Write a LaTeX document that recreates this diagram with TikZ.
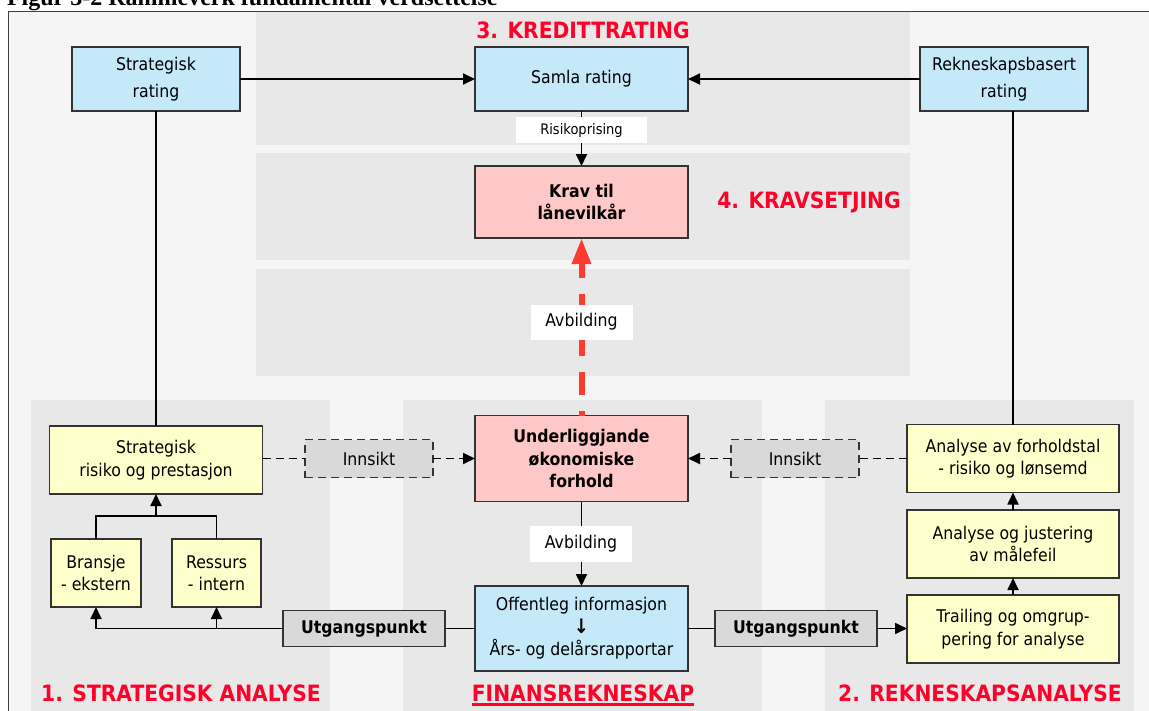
\documentclass[tikz,border=0pt]{standalone}
\usepackage{fontspec}
\setmainfont{DejaVu Sans}[FakeStretch=0.9]
\newfontfamily\capfont{Liberation Serif}
\usetikzlibrary{arrows.meta}
\definecolor{bluefill}{HTML}{C6E9FA}
\definecolor{yellowfill}{HTML}{FFFFCC}
\definecolor{pinkfill}{HTML}{FFC8C8}
\definecolor{grayfill}{HTML}{D9D9D9}
\definecolor{panelgray}{HTML}{E8E8E8}
\definecolor{bggray}{HTML}{F5F5F5}
\definecolor{boxline}{HTML}{333333}
\definecolor{headred}{HTML}{FF0029}
\definecolor{arrowred}{HTML}{FF3B30}

\begin{document}
\begin{tikzpicture}[x=1pt,y=-1pt,
	>={Triangle[length=12pt,width=11pt]},
	every node/.style={font=\fontsize{17.5}{22.5}\selectfont, align=center, inner sep=0pt, outer sep=0pt},
	sz/.style 2 args={minimum width=#1pt, minimum height=#2pt},
	box/.style={draw=boxline, line width=1.6pt},
	bluebox/.style={box, fill=bluefill},
	ratebox/.style={bluebox, font=\fontsize{17.5}{27}\selectfont},
	yellowbox/.style={box, fill=yellowfill},
	pinkbox/.style={box, fill=pinkfill, font=\fontsize{17.5}{22.5}\selectfont\bfseries},
	startbox/.style={box, fill=grayfill, sz={162}{36}, font=\fontsize{17.5}{22.5}\selectfont\bfseries},
	insightbox/.style={draw=boxline, line width=1.6pt, dash pattern=on 8pt off 5pt, fill=grayfill, sz={128}{38}},
	tag/.style={fill=white},
	head/.style={text=headred, font=\fontsize{22.5}{26}\selectfont\bfseries},
	link/.style={draw=black, line width=1.8pt},
	dlink/.style={link, dash pattern=on 8pt off 5pt},
	bigarrow/.style={draw=arrowred, line width=6pt, dash pattern=on 23pt off 16pt, dash phase=18pt, -{Triangle[length=26pt,width=18pt]}}]
\useasboundingbox (0,0) rectangle (1149,710);

% frame and background panels
\node[anchor=base west, font=\fontsize{24}{28}\selectfont\capfont\bfseries] (caption) at (7,5) {Figur 3-2 Rammeverk fundamental verdsettelse};
\draw[black!75, line width=1pt, fill=bggray] (8,11) rectangle (1175,735);
\fill[panelgray] (256,12) rectangle (910,145);
\fill[panelgray] (256,153) rectangle (910,260);
\fill[panelgray] (256,269) rectangle (910,376);
\fill[panelgray] (31,400) rectangle (330,712);
\fill[panelgray] (403,400) rectangle (762,712);
\fill[panelgray] (825,400) rectangle (1134,712);

% section titles
\node[head] (kreditt) at (583,30) {3. KREDITTRATING};
\node[head] (kravset) at (809,202) {4. KRAVSETJING};
\node[head] (stratan) at (181,693) {1. STRATEGISK ANALYSE};
\node[head] (finans) at (583,693) {FINANSREKNESKAP};
\node[head] (rekan) at (980,693) {2. REKNESKAPSANALYSE};
\draw[headred, line width=2.5pt] ([yshift=-3pt]finans.south west) -- ([yshift=-3pt]finans.south east);

% ratings
\node[ratebox, sz={168}{64}] (srat) at (156,79) {Strategisk\\rating};
\node[ratebox, sz={213}{64}] (samla) at (581.5,79) {\raisebox{-2pt}{Samla rating}};
\node[ratebox, sz={168}{64}] (rrat) at (1004,79) {Rekneskapsbasert\\rating};
\node[pinkbox, sz={213}{72}] (krav) at (581.5,202) {Krav til\\lånevilkår};

% middle column
\node[pinkbox, sz={213}{86}] (under) at (581.5,458.5) {Underliggjande\\økonomiske\\forhold};
\node[bluebox, sz={213}{85}] (off) at (581.5,628.5) {Offentleg informasjon\\{\fontsize{20}{22.5}\selectfont\bfseries ↓}\\Års- og delårsrapportar};
\node[insightbox] (innL) at (369,458.5) {Innsikt};
\node[insightbox] (innR) at (795,458.5) {Innsikt};
\node[startbox] (utgL) at (364,628.5) {Utgangspunkt};
\node[startbox] (utgR) at (796,628.5) {Utgangspunkt};

% strategic analysis
\node[yellowbox, sz={213}{68}] (strisk) at (156,460) {Strategisk\\risiko og prestasjon};
\node[yellowbox, sz={90}{68}] (bransje) at (96,573) {Bransje\\- ekstern};
\node[yellowbox, sz={89}{68}] (ressurs) at (216.5,573) {Ressurs\\- intern};
\coordinate (join) at (156,516);

% accounting analysis
\node[yellowbox, sz={212}{68}] (forhold) at (1013,458.5) {Analyse av forholdstal\\- risiko og lønsemd};
\node[yellowbox, sz={212}{68}] (justering) at (1013,544) {Analyse og justering\\av målefeil};
\node[yellowbox, sz={212}{68}] (trailing) at (1013,629) {Trailing og omgrup-\\pering for analyse};

% connectors
\path[link, ->]
	(srat) edge (samla)
	(rrat) edge (samla)
	(samla) edge (krav)
	(under) edge (off)
	(trailing) edge (justering)
	(justering) edge (forhold);
\draw[link] (srat) -- (strisk);
\draw[link] (forhold.north) -- (forhold.north |- rrat.south);
\draw[link] (bransje.north) |- (join) -| (ressurs.north);
\draw[link, ->] (join) -- (strisk.south);
\draw[link] (off.west) -- (utgL.east);
\draw[link, ->] (utgL.west) -| (bransje.south);
\draw[link, ->] (ressurs.south |- utgL.west) -- (ressurs.south);
\draw[link] (off.east) -- (utgR.west);
\draw[link, ->] (utgR.east) -- (utgR.east -| trailing.west);
\draw[dlink] (strisk.east |- innL.west) -- (innL.west);
\draw[dlink, ->] (innL.east) -- (under.west |- innL.east);
\draw[dlink] (forhold.west |- innR.east) -- (innR.east);
\draw[dlink, ->] (innR.west) -- (under.east |- innR.west);
\draw[bigarrow] (under.north) -- (krav.south);

% connector labels
\node[tag, sz={131}{26}, font=\fontsize{14.5}{17}\selectfont] (prising) at (581.5,130) {Risikoprising};
\node[tag, sz={102}{35}] (avb1) at (581.5,322) {Avbilding};
\node[tag, sz={102}{36}] (avb2) at (581,544) {Avbilding};
\end{tikzpicture}
\end{document}
